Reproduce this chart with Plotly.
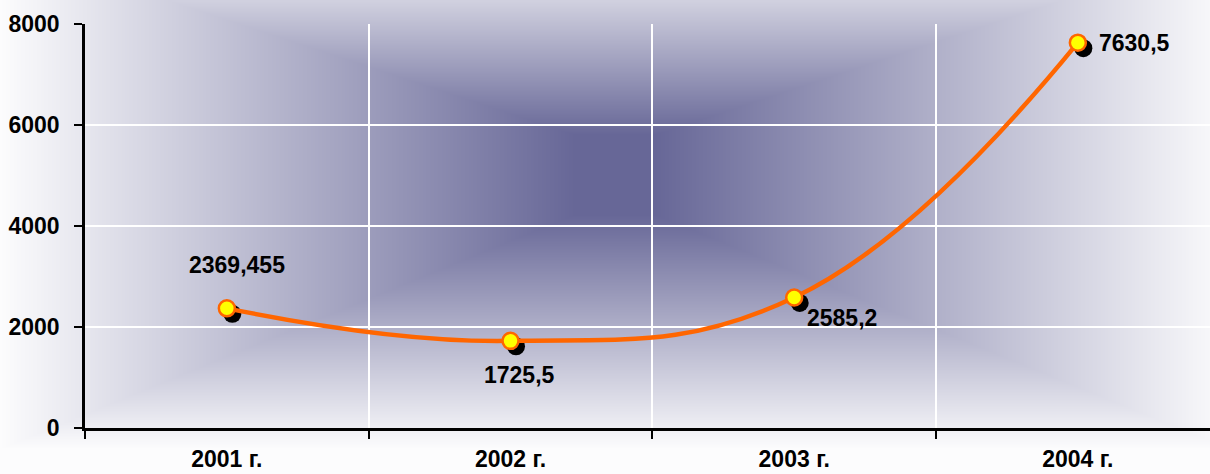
import base64
import struct
import zlib

import numpy as np
import plotly.graph_objects as go

# ---- data ----
categories = ["2001 г.", "2002 г.", "2003 г.", "2004 г."]
values = [2369.455, 1725.5, 2585.2, 7630.5]
value_labels = ["2369,455", "1725,5", "2585,2", "7630,5"]
y_ticks = [0, 2000, 4000, 6000, 8000]

# ---- canvas / layout geometry ----
W, H = 1210, 474
ML, MR, MT, MB = 85, 0, 24, 46
plot_w = W - ML - MR
plot_h = H - MT - MB
cat_px = 283.67
x_range = [-0.5, -0.5 + plot_w / cat_px]

FONT = "Arial, 'Liberation Sans', sans-serif"


# ---- background gradient (rectangular "from centre") as PNG ----
def gradient_png():
    cx, a, sx = 615.0, 40.0, 575.0          # horizontal centre, half plateau, falloff
    y_top, y_bot = 135.0, 215.0              # vertical dark plateau
    s_top, s_bot = 190.0, 234.0              # vertical falloff
    xs = np.arange(W) + 0.5
    ys = np.arange(H) + 0.5
    X, Y = np.meshgrid(xs, ys)
    tx = np.clip(np.abs(X - cx) - a, 0, None) / sx
    ty = np.where(Y < y_top, (y_top - Y) / s_top,
                  np.where(Y > y_bot, (Y - y_bot) / s_bot, 0.0))
    t = np.clip(np.maximum(tx, ty), 0, 1)
    dark = np.array([103, 103, 151], dtype=float)
    white = np.array([252, 252, 253], dtype=float)
    img = (dark + (white - dark) * t[..., None]).round().astype(np.uint8)
    raw = b"".join(b"\x00" + img[r].tobytes() for r in range(H))

    def chunk(tag, data):
        return (struct.pack(">I", len(data)) + tag + data
                + struct.pack(">I", zlib.crc32(tag + data) & 0xFFFFFFFF))

    png = (b"\x89PNG\r\n\x1a\n"
           + chunk(b"IHDR", struct.pack(">IIBBBBB", W, H, 8, 2, 0, 0, 0))
           + chunk(b"IDAT", zlib.compress(raw, 9))
           + chunk(b"IEND", b""))
    return "data:image/png;base64," + base64.b64encode(png).decode()


fig = go.Figure()

fig.add_trace(go.Scatter(
    x=categories, y=values, mode="lines+markers",
    line=dict(color="#ff6600", width=4.5, shape="spline", smoothing=1.2),
    marker=dict(size=16, color="#ffff00", line=dict(color="#ff6600", width=2.5)),
    hoverinfo="skip", showlegend=False,
))

# marker shadows (pixel offsets from the data points)
shapes = []
for c, v in zip(categories, values):
    shapes.append(dict(
        type="circle", xref="x", yref="y",
        xsizemode="pixel", ysizemode="pixel",
        xanchor=c, yanchor=v,
        x0=-3.5, x1=14.5, y0=-14.5, y1=3.5,
        fillcolor="black", line=dict(width=0), layer="between",
    ))

# data labels
label_offsets = [(10, 43), (9, -34), (48, -21), (57, 0)]
annotations = []
for c, v, txt, (dx, dy) in zip(categories, values, value_labels, label_offsets):
    annotations.append(dict(
        x=c, y=v, xref="x", yref="y", text=txt, showarrow=False,
        xshift=dx, yshift=dy, xanchor="center", yanchor="middle",
        font=dict(family=FONT, size=23, color="black", weight="bold"),
    ))

fig.update_layout(
    width=W, height=H,
    margin=dict(l=ML, r=MR, t=MT, b=MB, pad=0, autoexpand=False),
    paper_bgcolor="white",
    plot_bgcolor="rgba(0,0,0,0)",
    showlegend=False,
    shapes=shapes,
    annotations=annotations,
    images=[dict(
        source=gradient_png(), xref="paper", yref="paper",
        x=-ML / plot_w, y=1 + MT / plot_h,
        sizex=W / plot_w, sizey=H / plot_h,
        xanchor="left", yanchor="top", sizing="stretch", layer="below",
    )],
)

fig.update_xaxes(
    type="category", categoryorder="array", categoryarray=categories,
    range=x_range, tickson="boundaries", automargin=False,
    showgrid=True, gridcolor="white", gridwidth=2,
    showline=True, linecolor="black", linewidth=2.5,
    ticks="outside", ticklen=8, tickwidth=2, tickcolor="black",
    tickfont=dict(family=FONT, size=23, color="black", weight="bold"),
    ticklabelstandoff=9,
    zeroline=False, fixedrange=True,
)
fig.update_yaxes(
    range=[0, 8000], tickvals=y_ticks, ticktext=[str(t) for t in y_ticks],
    automargin=False,
    showgrid=True, gridcolor="white", gridwidth=2,
    showline=True, linecolor="black", linewidth=2.5,
    ticks="outside", ticklen=8, tickwidth=2, tickcolor="black",
    tickfont=dict(family=FONT, size=23, color="black", weight="bold"),
    ticklabelstandoff=10,
    zeroline=False, fixedrange=True,
)

fig.write_html("out.html")
